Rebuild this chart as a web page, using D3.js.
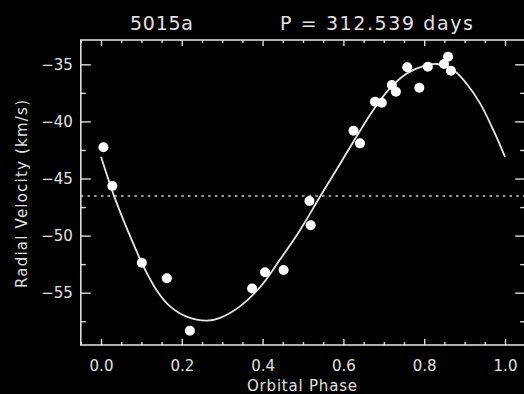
<!DOCTYPE html>
<html>
<head>
<meta charset="utf-8">
<script src="https://cdn.jsdelivr.net/npm/d3@7"></script>
<style>
  html, body { margin: 0; padding: 0; background: #000; }
  svg { display: block; }
  text { font-family: "DejaVu Sans", sans-serif; fill: #e2e2e2; }
</style>
</head>
<body>
<svg id="chart" width="524" height="394"></svg>
<script>
// ---- data ----
const titleLeft = "5015a";
const titleRight = "P = 312.539 days";
const xLabel = "Orbital Phase";
const yLabel = "Radial Velocity (km/s)";

const obsPhase = [0.006, 0.028, 0.101, 0.163, 0.220, 0.374, 0.406, 0.452, 0.516, 0.519,
                  0.625, 0.641, 0.678, 0.695, 0.720, 0.730, 0.758, 0.788, 0.809, 0.849,
                  0.859, 0.866];
const obsVel   = [-42.27, -45.66, -52.37, -53.74, -58.33, -54.63, -53.21, -53.01, -46.97, -49.10,
                  -40.81, -41.92, -38.27, -38.36, -36.81, -37.40, -35.26, -37.05, -35.21, -34.97,
                  -34.33, -35.56];

const fitPhase = [0.000, 0.030, 0.055, 0.080, 0.105, 0.138, 0.171, 0.212, 0.262, 0.295,
                  0.344, 0.394, 0.443, 0.493, 0.542, 0.592, 0.633, 0.674, 0.715, 0.757,
                  0.798, 0.831, 0.872, 0.905, 0.938, 0.971, 1.000];
const fitVel   = [-43.1, -46.3, -48.6, -50.7, -52.7, -54.8, -56.2, -57.1, -57.45, -57.2,
                  -56.2, -54.5, -52.1, -49.5, -46.6, -43.7, -41.3, -39.0, -37.1, -35.8,
                  -35.15, -34.97, -35.5, -36.7, -38.4, -40.75, -43.1];

const systemicVel = -46.53;

const xMajorTicks = [0, 0.2, 0.4, 0.6, 0.8, 1.0];
const xTickLabels = ["0.0", "0.2", "0.4", "0.6", "0.8", "1.0"];
const xMinorTicks = [-0.05, 0.05, 0.1, 0.15, 0.25, 0.3, 0.35, 0.45, 0.5, 0.55, 0.65, 0.7, 0.75, 0.85, 0.9, 0.95, 1.05];
const yMajorTicks = [-55, -50, -45, -40, -35];
const yTickLabels = ["\u221255", "\u221250", "\u221245", "\u221240", "\u221235"];
const yMinorTicks = [-57.5, -52.5, -47.5, -42.5, -37.5];

const xDomain = [-0.05, 1.05];
const yDomain = [-59.58, -32.87];

// ---- layout ----
const L = 80.8, R = 525.2, T = 40, B = 345;
const axisColor = "#dcdcdc";
const svg = d3.select("#chart");
svg.append("rect").attr("width", 524).attr("height", 394).attr("fill", "#000");

const x = d3.scaleLinear().domain(xDomain).range([L, R]);
const y = d3.scaleLinear().domain(yDomain).range([B, T]);

function styleAxis(g) {
  g.select(".domain").remove();
  g.selectAll(".tick line").attr("stroke", axisColor).attr("stroke-width", 1.4);
  g.selectAll(".tick text").attr("fill", "#e2e2e2").style("font-size", "15px")
    .style("font-family", "DejaVu Sans, sans-serif");
}

// bottom axis (major + minor)
svg.append("g").attr("transform", `translate(0,${B})`)
  .call(d3.axisBottom(x).tickValues(xMajorTicks).tickSize(-6).tickPadding(15)
        .tickFormat((d, i) => xTickLabels[i]))
  .call(styleAxis);
svg.append("g").attr("transform", `translate(0,${B})`)
  .call(d3.axisBottom(x).tickValues(xMinorTicks).tickSize(-3).tickFormat(""))
  .call(styleAxis);
// top axis
svg.append("g").attr("transform", `translate(0,${T})`)
  .call(d3.axisTop(x).tickValues(xMajorTicks).tickSize(-6).tickFormat(""))
  .call(styleAxis);
svg.append("g").attr("transform", `translate(0,${T})`)
  .call(d3.axisTop(x).tickValues(xMinorTicks).tickSize(-3).tickFormat(""))
  .call(styleAxis);
// left axis
svg.append("g").attr("transform", `translate(${L},0)`)
  .call(d3.axisLeft(y).tickValues(yMajorTicks).tickSize(-10).tickPadding(8)
        .tickFormat((d, i) => yTickLabels[i]))
  .call(styleAxis);
svg.append("g").attr("transform", `translate(${L},0)`)
  .call(d3.axisLeft(y).tickValues(yMinorTicks).tickSize(-5).tickFormat(""))
  .call(styleAxis);
// right axis
svg.append("g").attr("transform", `translate(${R},0)`)
  .call(d3.axisRight(y).tickValues(yMajorTicks).tickSize(-10).tickFormat(""))
  .call(styleAxis);
svg.append("g").attr("transform", `translate(${R},0)`)
  .call(d3.axisRight(y).tickValues(yMinorTicks).tickSize(-5).tickFormat(""))
  .call(styleAxis);

// frame
svg.append("rect").attr("x", L).attr("y", T).attr("width", R - L).attr("height", B - T)
  .attr("fill", "none").attr("stroke", axisColor).attr("stroke-width", 1.6);

// systemic velocity dotted line
svg.append("line")
  .attr("x1", x(xDomain[0])).attr("x2", x(xDomain[1]))
  .attr("y1", y(systemicVel)).attr("y2", y(systemicVel))
  .attr("stroke", "#d0d0d0").attr("stroke-width", 1.4)
  .attr("stroke-dasharray", "2.5,4.2");

// fitted curve
const fitData = fitPhase.map((p, i) => [p, fitVel[i]]);
svg.append("path").datum(fitData)
  .attr("d", d3.line().x(d => x(d[0])).y(d => y(d[1])).curve(d3.curveCatmullRom.alpha(0.5)))
  .attr("fill", "none").attr("stroke", "#e6e6e6").attr("stroke-width", 1.8);

// observations
const obsData = obsPhase.map((p, i) => [p, obsVel[i]]);
svg.append("g").selectAll("circle").data(obsData).join("circle")
  .attr("cx", d => x(d[0])).attr("cy", d => y(d[1])).attr("r", 5)
  .attr("fill", "#ffffff");

// titles
svg.append("text").attr("x", 161.5).attr("y", 30).attr("text-anchor", "middle")
  .style("font-size", "19px").attr("textLength", 63).attr("lengthAdjust", "spacing")
  .text(titleLeft);
svg.append("text").attr("x", 280).attr("y", 30)
  .style("font-size", "19px").attr("textLength", 193).attr("lengthAdjust", "spacing")
  .text(titleRight);

// axis titles
svg.append("text").attr("x", 302).attr("y", 391).attr("text-anchor", "middle")
  .style("font-size", "15px").attr("textLength", 110).attr("lengthAdjust", "spacing")
  .text(xLabel);
svg.append("text").attr("transform", "translate(27,194) rotate(-90)")
  .attr("text-anchor", "middle")
  .style("font-size", "15px").attr("textLength", 188).attr("lengthAdjust", "spacing")
  .text(yLabel);
</script>
</body>
</html>
